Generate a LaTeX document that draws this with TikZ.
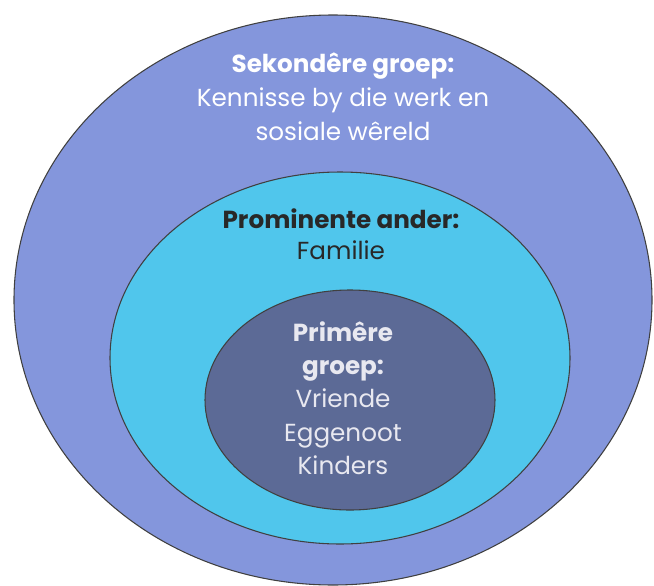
\documentclass[tikz,border=0pt]{standalone}
\usepackage{fontspec}
\setmainfont{Poppins}
\usetikzlibrary{shapes.geometric}
\definecolor{outerblue}{RGB}{132,150,220}
\definecolor{middlecyan}{RGB}{80,198,236}
\definecolor{innerslate}{RGB}{92,106,150}
\definecolor{darktext}{RGB}{40,40,40}
\definecolor{palegrey}{RGB}{232,232,240}
\begin{document}
\begin{tikzpicture}[x=0.75pt,y=-0.75pt,
  ring/.style={ellipse,draw=black!75,line width=0.8pt,inner sep=0pt},
  ringtext/.style={align=center,font=\fontsize{18.5}{25.5}\selectfont}]
  \useasboundingbox (0,0) rectangle (654,586);
  % the three groups
  \node[ring,fill=outerblue,minimum width=478.5pt,minimum height=427.5pt] (outer) at (333,300) {};
  \node[ring,fill=middlecyan,minimum width=345pt,minimum height=279pt] (middle) at (340,358) {};
  \node[ring,fill=innerslate,minimum width=217.5pt,minimum height=165pt] (inner) at (350,400) {};
  % labels
  \node[ringtext,text=white] (secondary) at (343,97)
    {\textbf{Sekondêre groep:}\\Kennisse by die werk en\\sosiale wêreld};
  \node[ringtext,text=darktext,font=\fontsize{18.5}{23.5}\selectfont] (significant) at (341,234)
    {\textbf{Prominente ander:}\\Familie};
  \node[ringtext,text=palegrey,font=\fontsize{18.5}{25}\selectfont] (primary) at (343,398)
    {\textbf{Primêre}\\\textbf{groep:}\\Vriende\\Eggenoot\\Kinders};
\end{tikzpicture}
\end{document}
